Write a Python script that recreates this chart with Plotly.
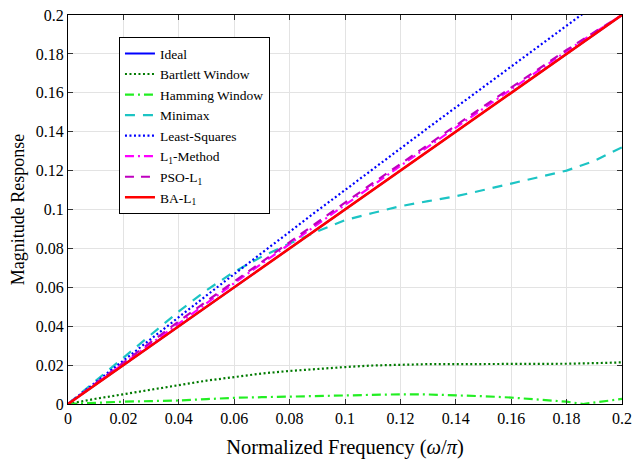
import plotly.graph_objects as go

# Normalized frequency grid (omega/pi)
freq = [0.0, 0.01, 0.02, 0.03, 0.04, 0.05, 0.06, 0.07, 0.08, 0.09, 0.10,
        0.11, 0.12, 0.13, 0.14, 0.15, 0.16, 0.17, 0.18, 0.19, 0.20]

ideal = [0.0, 0.01, 0.02, 0.03, 0.04, 0.05, 0.06, 0.07, 0.08, 0.09, 0.10,
         0.11, 0.12, 0.13, 0.14, 0.15, 0.16, 0.17, 0.18, 0.19, 0.20]

bartlett = [0.0, 0.0027, 0.0050, 0.0075, 0.0097, 0.0120, 0.0140, 0.0157, 0.0170, 0.0181, 0.0190,
            0.0198, 0.0203, 0.0205, 0.0205, 0.0205, 0.0205, 0.0206, 0.0207, 0.0210, 0.0214]

# Hamming response has a null near 0.186, so it gets its own grid
hamming_freq = [0.0, 0.01, 0.02, 0.03, 0.04, 0.05, 0.06, 0.07, 0.08, 0.09, 0.10,
                0.11, 0.12, 0.13, 0.14, 0.15, 0.16, 0.17, 0.18, 0.186, 0.19, 0.20]
hamming = [0.0, 0.0007, 0.0012, 0.0015, 0.0018, 0.0025, 0.0032, 0.0035, 0.0038, 0.0042, 0.0046,
           0.0048, 0.0050, 0.0049, 0.0045, 0.0040, 0.0033, 0.0024, 0.0012, 0.0, 0.0008, 0.0026]

minimax = [0.0, 0.0120, 0.0240, 0.0360, 0.0476, 0.0585, 0.0680, 0.0758, 0.0825, 0.0887, 0.0945,
           0.0982, 0.1017, 0.1043, 0.1068, 0.1100, 0.1133, 0.1165, 0.1200, 0.1250, 0.1320]

least_squares = [0.0, 0.0112, 0.0225, 0.0337, 0.0448, 0.0558, 0.0668, 0.0778, 0.0888, 0.0994, 0.1100,
                 0.1208, 0.1315, 0.1420, 0.1525, 0.1630, 0.1735, 0.1842, 0.1948, 0.2052, 0.2155]

l1_method = [0.0, 0.0104, 0.0208, 0.0312, 0.0416, 0.0519, 0.0621, 0.0722, 0.0823, 0.0923, 0.1024,
             0.1124, 0.1224, 0.1323, 0.1422, 0.1521, 0.1619, 0.1717, 0.1814, 0.1909, 0.2000]

pso_l1 = [0.0, 0.0107, 0.0214, 0.0320, 0.0425, 0.0528, 0.0630, 0.0732, 0.0833, 0.0934, 0.1035,
          0.1135, 0.1235, 0.1334, 0.1432, 0.1530, 0.1627, 0.1724, 0.1820, 0.1912, 0.2000]

ba_l1 = [0.0, 0.0100, 0.0200, 0.0300, 0.0400, 0.0500, 0.0600, 0.0700, 0.0800, 0.0900, 0.1000,
         0.1100, 0.1200, 0.1300, 0.1400, 0.1500, 0.1600, 0.1700, 0.1800, 0.1900, 0.2000]

tick_vals = [0, 0.02, 0.04, 0.06, 0.08, 0.1, 0.12, 0.14, 0.16, 0.18, 0.2]
tick_text = ["0", "0.02", "0.04", "0.06", "0.08", "0.1", "0.12", "0.14", "0.16", "0.18", "0.2"]

series = [
    ("Ideal", freq, ideal, "#0000FF", "solid", 2),
    ("Bartlett Window", freq, bartlett, "#007A00", "2px,2.5px", 2.2),
    ("Hamming Window", hamming_freq, hamming, "#22EE22", "9px,4px,2px,4px", 2.2),
    ("Minimax", freq, minimax, "#1CC4C4", "10px,8px", 2.2),
    ("Least-Squares", freq, least_squares, "#0000FF", "2px,2.5px", 2.2),
    ("L<sub>1</sub>-Method", freq, l1_method, "#FF00FF", "9px,4px,2px,4px", 2.2),
    ("PSO-L<sub>1</sub>", freq, pso_l1, "#BF00BF", "9px,7px", 2.2),
    ("BA-L<sub>1</sub>", freq, ba_l1, "#FF0000", "solid", 2.6),
]

font_family = "Liberation Serif"

fig = go.Figure()
for name, xs, vals, color, dash, width in series:
    fig.add_trace(go.Scatter(
        x=xs, y=vals, mode="lines", name=name,
        line=dict(color=color, dash=dash, width=width),
    ))

axis_common = dict(
    tickvals=tick_vals, ticktext=tick_text,
    range=[0, 0.2],
    showline=True, linecolor="black", linewidth=1, mirror="ticks",
    ticks="inside", ticklen=5, tickcolor="#333333",
    showgrid=True, gridcolor="#E3E3E3", gridwidth=1,
    zeroline=False, automargin=False,
    tickfont=dict(family=font_family, size=16, color="black"),
)

fig.update_layout(
    width=639, height=459,
    margin=dict(l=68, r=17, t=15, b=55, autoexpand=False),
    paper_bgcolor="white", plot_bgcolor="white",
    font=dict(family=font_family, color="black"),
    xaxis=dict(
        title=dict(text="Normalized Frequency (<i>ω</i>/<i>π</i>)",
                   font=dict(family=font_family, size=20.5), standoff=14),
        **axis_common,
    ),
    yaxis=dict(
        title=dict(text="Magnitude Response",
                   font=dict(family=font_family, size=18), standoff=6),
        **axis_common,
    ),
    legend=dict(
        x=0.092, y=0.943, xanchor="left", yanchor="top",
        bgcolor="white", bordercolor="black", borderwidth=1,
        font=dict(family=font_family, size=13.5, color="black"),
        tracegroupgap=0,
    ),
    showlegend=True,
)

fig.write_html("out.html")
